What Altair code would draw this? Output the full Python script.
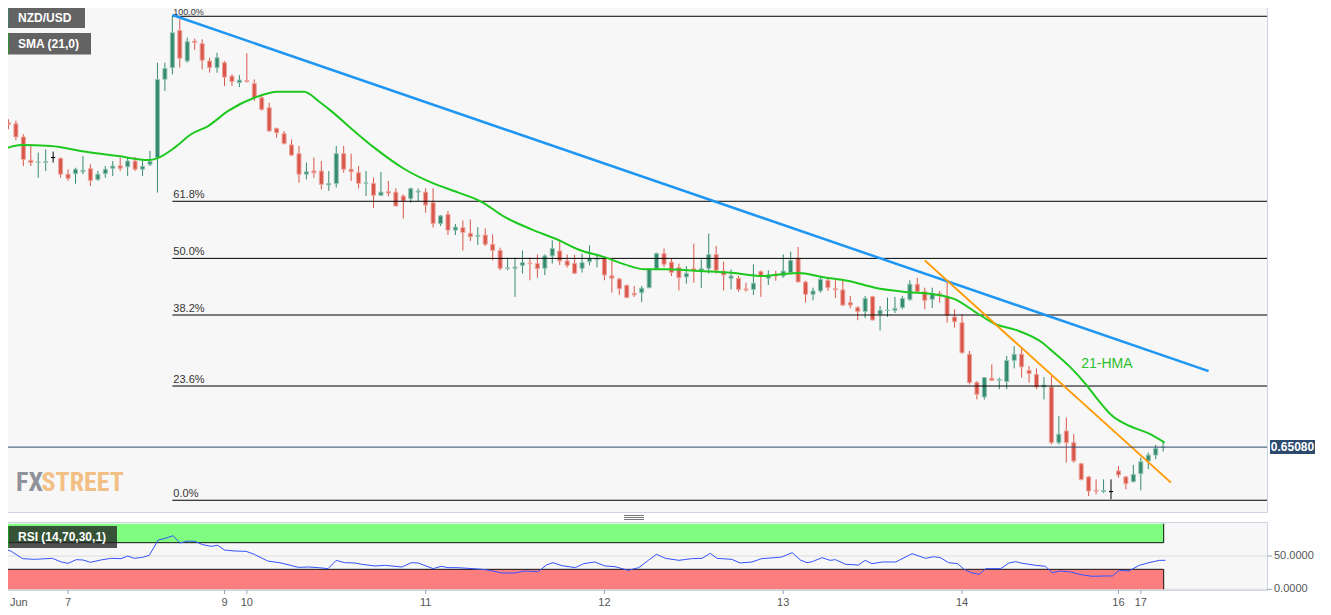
import altair as alt
import pandas as pd

# ---------------- data ----------------
# hourly candles, index 0 = 7 Jun 00:00 (weekend hours removed); prices in pips (x 1e-4)
FIRST_IDX = -9
open_pips = [
    6632.6, 6638.6, 6638.2, 6632.9, 6623.5, 6622.6, 6622.6, 6624.6, 6624.3, 6617.9,
    6618.1, 6618.9, 6620.1, 6615.8, 6618.1, 6620.3, 6621.3, 6620.9, 6623.2, 6619.9,
    6621.9, 6624.6, 6656.1, 6660.8, 6675.8, 6663.5, 6671.5, 6670.5, 6663.5, 6660.8,
    6662.8, 6657.4, 6654.8, 6655.6, 6654.4, 6648.7, 6644.7, 6636.4, 6634.2, 6629.7,
    6626.2, 6617.9, 6619.2, 6619.2, 6613.6, 6614.1, 6626.2, 6619.9, 6618.5, 6614.2,
    6614.2, 6609.4, 6610.9, 6610.7, 6609.1, 6608.1, 6610.7, 6610.7, 6606.4, 6598.0,
    6601.7, 6595.4, 6596.4, 6594.1, 6592.9, 6593.4, 6589.7, 6587.2, 6580.0, 6580.0,
    6581.2, 6582.1, 6581.9, 6580.0, 6585.0, 6587.0, 6583.0, 6582.0, 6580.0, 6582.7,
    6583.5, 6584.0, 6577.0, 6575.7, 6573.2, 6569.9, 6570.2, 6572.2, 6579.9, 6585.9,
    6582.5, 6580.3, 6576.5, 6579.9, 6579.2, 6580.0, 6585.6, 6578.9, 6576.0, 6576.0,
    6571.7, 6571.5, 6578.7, 6576.0, 6577.6, 6576.9, 6578.3, 6584.0, 6574.5, 6569.5,
    6570.9, 6575.2, 6571.8, 6571.3, 6566.2, 6564.2, 6562.6, 6568.6, 6561.5, 6563.0,
    6563.1, 6564.2, 6567.5, 6573.6, 6570.6, 6567.5, 6569.8, 6568.6, 6560.4, 6558.1,
    6545.4, 6534.0, 6528.2, 6535.7, 6534.9, 6534.4, 6542.9, 6545.4, 6538.9, 6537.3,
    6532.2, 6532.2, 6509.8, 6514.5, 6509.8, 6501.3, 6496.0, 6490.6, 6490.1, 6490.1,
    6498.4, 6496.0, 6494.1, 6497.3, 6502.4, 6504.8, 6507.9,
]
high_pips = [
    6643.4, 6640.0, 6639.5, 6634.0, 6629.9, 6626.6, 6627.9, 6627.0, 6624.6, 6619.9,
    6620.5, 6625.2, 6621.9, 6619.2, 6621.2, 6623.2, 6624.6, 6624.6, 6624.8, 6623.9,
    6627.3, 6662.8, 6662.8, 6681.5, 6680.3, 6672.9, 6672.5, 6672.2, 6664.8, 6666.8,
    6663.5, 6658.1, 6657.8, 6666.6, 6656.1, 6650.1, 6646.7, 6636.6, 6635.3, 6631.9,
    6629.3, 6622.6, 6624.6, 6623.2, 6619.2, 6629.3, 6629.3, 6626.2, 6621.2, 6619.2,
    6616.5, 6618.8, 6615.2, 6612.2, 6609.8, 6612.5, 6612.2, 6612.2, 6612.2, 6601.5,
    6603.1, 6597.9, 6599.3, 6599.7, 6596.6, 6596.1, 6593.7, 6588.3, 6584.3, 6584.3,
    6587.2, 6584.3, 6585.6, 6585.6, 6591.3, 6591.0, 6585.6, 6585.4, 6585.9, 6589.3,
    6585.4, 6585.0, 6583.0, 6576.2, 6573.2, 6572.9, 6572.9, 6580.0, 6586.3, 6588.0,
    6583.9, 6581.9, 6580.9, 6589.9, 6583.6, 6594.0, 6589.0, 6582.7, 6579.6, 6576.9,
    6574.2, 6581.6, 6579.2, 6579.2, 6579.0, 6585.6, 6586.7, 6588.6, 6575.0, 6572.2,
    6576.5, 6576.2, 6575.2, 6575.6, 6568.9, 6564.8, 6568.9, 6568.9, 6564.8, 6568.2,
    6568.5, 6568.9, 6575.2, 6576.2, 6572.2, 6572.2, 6570.9, 6574.9, 6563.5, 6561.5,
    6546.7, 6534.6, 6536.2, 6541.3, 6536.0, 6544.7, 6548.7, 6548.1, 6540.7, 6539.7,
    6536.2, 6536.6, 6520.5, 6519.9, 6513.2, 6501.7, 6496.4, 6495.0, 6495.0, 6495.0,
    6500.4, 6496.4, 6500.8, 6503.8, 6505.8, 6508.9, 6510.1,
]
low_pips = [
    6632.0, 6636.0, 6631.5, 6621.2, 6621.2, 6616.5, 6619.2, 6622.6, 6616.5, 6615.2,
    6614.1, 6617.9, 6613.2, 6615.2, 6616.5, 6617.2, 6619.2, 6617.2, 6619.2, 6617.2,
    6621.2, 6610.5, 6651.4, 6658.1, 6660.8, 6662.8, 6668.0, 6660.1, 6658.8, 6658.8,
    6653.4, 6653.4, 6653.0, 6654.8, 6647.4, 6643.5, 6635.0, 6632.6, 6629.9, 6625.2,
    6614.5, 6615.8, 6616.5, 6611.8, 6611.2, 6612.5, 6618.5, 6615.2, 6612.2, 6609.1,
    6604.2, 6609.1, 6609.0, 6605.0, 6600.1, 6606.4, 6607.0, 6602.4, 6596.4, 6597.0,
    6593.4, 6593.4, 6587.2, 6591.0, 6589.4, 6589.0, 6583.2, 6579.2, 6579.2, 6568.5,
    6577.9, 6575.2, 6576.2, 6577.3, 6581.9, 6581.3, 6580.3, 6577.9, 6578.3, 6581.2,
    6580.3, 6575.2, 6570.2, 6569.3, 6568.0, 6568.5, 6566.4, 6572.0, 6579.6, 6580.5,
    6576.9, 6571.1, 6573.8, 6574.2, 6572.0, 6577.9, 6577.9, 6571.1, 6571.5, 6570.6,
    6570.6, 6569.3, 6568.5, 6573.3, 6575.0, 6576.2, 6577.8, 6574.5, 6566.2, 6567.1,
    6570.2, 6570.9, 6568.0, 6564.8, 6563.9, 6559.1, 6559.9, 6559.0, 6555.0, 6560.4,
    6562.0, 6563.5, 6566.9, 6570.2, 6563.5, 6564.0, 6566.2, 6558.1, 6556.1, 6545.6,
    6533.3, 6527.2, 6527.2, 6534.9, 6531.3, 6531.3, 6539.7, 6536.0, 6534.0, 6531.3,
    6527.2, 6509.1, 6509.1, 6501.7, 6501.7, 6494.6, 6488.3, 6489.0, 6489.5, 6487.0,
    6495.7, 6491.0, 6493.7, 6490.6, 6499.1, 6503.1, 6506.2,
]
close_pips = [
    6640.0, 6638.0, 6632.9, 6623.8, 6622.6, 6622.8, 6623.0, 6624.6, 6617.9, 6616.2,
    6619.9, 6619.5, 6615.4, 6617.9, 6619.9, 6621.2, 6620.3, 6623.2, 6619.9, 6621.1,
    6623.0, 6656.0, 6660.5, 6674.9, 6664.6, 6671.3, 6670.9, 6663.8, 6660.8, 6664.8,
    6657.0, 6655.2, 6655.8, 6655.2, 6648.7, 6644.0, 6635.3, 6634.6, 6630.2, 6625.6,
    6617.9, 6618.9, 6618.5, 6613.8, 6614.1, 6626.2, 6619.9, 6618.9, 6614.2, 6614.4,
    6609.4, 6610.7, 6610.3, 6605.1, 6607.1, 6612.1, 6611.1, 6605.5, 6598.0, 6601.1,
    6595.4, 6596.6, 6594.4, 6592.7, 6593.3, 6589.7, 6587.2, 6580.0, 6580.2, 6580.5,
    6582.3, 6581.9, 6579.9, 6585.0, 6588.0, 6583.0, 6581.2, 6578.0, 6582.3, 6584.0,
    6583.9, 6577.3, 6576.0, 6571.8, 6568.2, 6569.3, 6572.0, 6579.6, 6586.0, 6581.6,
    6578.3, 6576.2, 6577.9, 6579.2, 6579.9, 6585.6, 6579.2, 6577.3, 6576.9, 6571.5,
    6571.3, 6574.0, 6576.9, 6577.3, 6576.9, 6578.9, 6583.2, 6574.5, 6569.5, 6570.9,
    6575.6, 6572.2, 6571.4, 6565.2, 6565.2, 6562.6, 6567.9, 6559.2, 6563.1, 6563.2,
    6563.9, 6567.9, 6573.6, 6570.6, 6567.1, 6569.8, 6569.3, 6561.0, 6558.5, 6546.0,
    6534.0, 6529.3, 6536.0, 6534.9, 6535.2, 6542.9, 6545.4, 6540.3, 6537.6, 6532.2,
    6533.0, 6509.8, 6513.2, 6509.8, 6502.4, 6495.0, 6490.3, 6490.3, 6490.6, 6490.1,
    6496.8, 6493.3, 6497.0, 6502.1, 6504.8, 6507.5, 6508.0,
]

# 21-period moving average line
hma_idx = [-9.0, -6.3, -2.3, 2.2, 6.7, 10.8, 12.1, 14.3, 16.5, 18.8, 21.5, 25.0, 28.2,
           31.7, 33.6, 35.3, 38.4, 41.1, 45.2, 48.8, 52.4, 55.5, 58.6, 62.2, 65.9,
           68.5, 72.0, 74.7, 77.4, 80.1, 84.7, 89.1, 93.1, 95.8, 98.1, 101.2, 104.8,
           108.3, 112.0, 116.4, 119.1, 121.8, 124.5, 127.2, 130.8, 132.1, 134.4,
           136.6, 138.4, 140.2, 142.5, 145.2, 147.2]
hma_pips = [6627.5, 6629.7, 6629.3, 6627.0, 6625.2, 6623.6, 6624.5, 6628.6, 6634.0,
            6637.3, 6643.4, 6648.7, 6651.1, 6651.1, 6647.4, 6643.4, 6635.3, 6628.6,
            6619.9, 6614.5, 6610.5, 6606.8, 6600.7, 6595.7, 6591.3, 6587.6, 6584.5,
            6581.6, 6579.6, 6579.6, 6578.9, 6578.2, 6576.9, 6577.6, 6578.1, 6576.5,
            6574.9, 6572.2, 6570.6, 6569.5, 6567.5, 6562.4, 6557.5, 6555.2, 6550.0,
            6546.7, 6540.6, 6533.4, 6526.5, 6520.5, 6516.5, 6513.3, 6509.8]

# RSI line
rsi_idx = [-9.0, -7.7, -6.1, -4.5, -2.1, -0.9, 0.0, 1.1, 2.0, 3.0, 4.4, 5.8, 7.1, 8.0,
           8.9, 10.0, 10.9, 12.1, 12.9, 14.1, 15.0, 16.1, 17.0, 18.1, 19.2, 20.1, 21.0,
           22.4, 23.9, 25.0, 26.8, 28.6, 30.9, 32.3, 33.6, 34.9, 36.0, 37.1, 38.5, 39.4,
           41.2, 42.5, 44.8,
           46.1, 47.0, 49.0, 50.1, 51.0, 52.2, 53.7, 55.5, 56.6, 58.2, 60.0, 61.3, 63.1,
           64.2, 65.1, 66.3, 68.1, 69.2, 70.7, 72.1, 73.4, 75.2, 76.6, 77.9, 79.0, 80.2,
           82.0, 83.7, 85.1, 86.2, 87.1, 89.1, 90.2, 91.8, 93.1, 94.9, 95.8, 97.2, 98.3,
           99.2, 99.9, 101.2, 102.3, 103.0, 104.4, 106.1, 107.0, 107.9,
           109.3, 111.1, 113.3, 115.1, 116.2, 117.1, 118.2, 119.4, 120.3, 121.2, 122.3,
           123.2, 125.2, 126.3, 127.2, 128.1, 129.9, 131.2, 132.1, 133.2, 134.6, 136.2,
           137.5, 139.1, 140.2, 141.1, 142.4, 143.8, 145.1, 146.5, 147.3]
rsi_val = [61.5, 57.5, 46.0, 45.0, 46.5, 41.0, 39.0, 44.5, 44.0, 40.5, 44.0, 46.5, 46.0,
           50.0, 46.5, 48.0, 51.0, 74.0, 76.0, 80.5, 69.5, 72.5, 72.0, 67.0, 64.5, 66.0,
           59.0, 57.5, 57.0, 52.5, 42.5, 39.5, 33.0, 33.5, 32.5, 31.0, 43.5, 40.0, 39.5,
           37.5, 35.0, 36.0, 33.5,
           40.0, 39.5, 31.0, 34.5, 32.5, 32.5, 31.5, 30.0, 28.5, 24.5, 24.5, 27.5, 26.5,
           36.5, 40.0, 35.5, 32.5, 38.5, 41.0, 35.0, 34.0, 28.5, 32.5, 43.5, 52.5, 46.5,
           43.5, 46.0, 46.5, 54.0, 46.5, 45.0, 39.5, 41.0, 46.0, 47.5, 48.5, 55.0, 44.0,
           40.0, 41.5, 47.5, 43.5, 44.5, 37.5, 36.5, 43.5, 38.5,
           41.0, 41.0, 53.5, 46.5, 49.0, 47.5, 40.0, 38.5, 30.0, 25.0, 22.5, 31.0, 31.0,
           39.5, 41.5, 39.0, 36.0, 34.5, 25.0, 27.5, 26.0, 21.5, 19.5, 20.0, 20.0, 28.5,
           27.5, 36.0, 40.0, 43.5, 43.5]

# trend lines (two anchor points each)
blue_idx = [14.0, 153.1]
blue_pips = [6682.0, 6538.6]
orange_idx = [115.0, 148.05]
orange_pips = [6583.2, 6493.7]

# Fibonacci levels
fib_labels = ["100.0%", "61.8%", "50.0%", "38.2%", "23.6%", "0.0%"]
fib_pips = [6681.5, 6607.0, 6584.0, 6561.2, 6532.6, 6486.6]
fib_start_idx = 14.0

# axes
price_ticks = [0.6490, 0.6500, 0.6510, 0.6520, 0.6530, 0.6540, 0.6550, 0.6560, 0.6570,
               0.6580, 0.6590, 0.6600, 0.6610, 0.6620, 0.6630, 0.6640, 0.6650, 0.6660,
               0.6670, 0.6680]
rsi_ticks = [0, 50]
time_tick_idx = [-9, 0, 21, 24, 48, 72, 96, 120, 141, 144]
time_tick_lbl = ["Jun", "7", "9", "10", "11", "12", "13", "14", "16", "17"]

rsi_upper, rsi_lower, rsi_band_top = 70, 30, 98.5
rsi_band_end_idx = 147.07
hma_text, hma_text_idx, hma_text_pips = "21-HMA", 136.0, 6541.5

# ---------------- chart ----------------
P = 1e-4
W, H_MAIN, H_RSI = 1266, 511, 68
XDOM = [-9.0, 160.94]
YDOM = [0.648187, 0.668765]
RDOM = [-1.05, 101.05]

GREEN, RED = "#358b6f", "#d9574a"
GREEN_L, RED_L = "#93c4b3", "#eda59d"
AXIS_TXT, TICK_C = "#555555", "#9aa3b5"
FONT = "Liberation Sans"
NARROW = ("Noto Sans Condensed, Roboto Condensed, Liberation Sans Narrow, "
          "DejaVu Sans Condensed, Liberation Sans")

n = len(open_pips)
candles = pd.DataFrame({
    "idx": list(range(FIRST_IDX, FIRST_IDX + n)),
    "o": [v * P for v in open_pips],
    "h": [v * P for v in high_pips],
    "l": [v * P for v in low_pips],
    "c": [v * P for v in close_pips],
})
candles["dir"] = ["up" if c > o else ("down" if c < o else "flat")
                  for o, c in zip(open_pips, close_pips)]

xscale = alt.Scale(domain=XDOM, nice=False, zero=False, padding=0)
yscale = alt.Scale(domain=YDOM, nice=False, zero=False, padding=0)
rscale = alt.Scale(domain=RDOM, nice=False, zero=False, padding=0)
cscale = alt.Scale(domain=["up", "down", "flat"], range=[GREEN, RED, "#000000"])
cscale_l = alt.Scale(domain=["up", "down", "flat"], range=[GREEN_L, RED_L, "#000000"])

yaxis = alt.Axis(orient="right", values=price_ticks, format=".4f", grid=True,
                 gridColor="#e3e3e3", domain=False, tickColor=TICK_C, tickSize=5,
                 labelPadding=2, labelColor=AXIS_TXT, labelFontSize=11, labelFont=FONT,
                 title=None)


def X(f):
    return alt.X(f, type="quantitative", scale=xscale, axis=None, title=None)


def Y(f, axis=None):
    return alt.Y(f, type="quantitative", scale=yscale, axis=axis, title=None)


def RX(f):
    return alt.X(f, type="quantitative", scale=xscale, axis=None, title=None)


def RY(f):
    return alt.Y(f, type="quantitative", scale=rscale, axis=None, title=None)


one = alt.Data(values=[{"k": 1}])


def box(x1, x2, y1, y2, color, opacity=1.0):
    return alt.Chart(one).mark_rect(color=color, opacity=opacity).encode(
        x=alt.value(x1), x2=alt.value(x2), y=alt.value(y1), y2=alt.value(y2))


def label(x, y, text, color="white", size=12, weight="bold", font=FONT,
          align="left", baseline="middle"):
    return alt.Chart(one).mark_text(color=color, fontSize=size, fontWeight=weight,
                                    font=font, align=align, baseline=baseline).encode(
        x=alt.value(x), y=alt.value(y), text=alt.value(text))


wicks = alt.Chart(candles).mark_rule(strokeWidth=1, clip=True).encode(
    x=X("idx"), y=Y("l", axis=yaxis), y2="h",
    color=alt.Color("dir:N", scale=cscale, legend=None))
bodies = alt.Chart(candles).mark_bar(size=4, strokeWidth=1, clip=True).encode(
    x=X("idx"), y=Y("o"), y2="c",
    fill=alt.Fill("dir:N", scale=cscale, legend=None),
    stroke=alt.Stroke("dir:N", scale=cscale_l, legend=None))

fib_df = pd.DataFrame({"label": fib_labels, "p": [v * P for v in fib_pips],
                       "x0": fib_start_idx, "x1": XDOM[1]})
fib_lines = alt.Chart(fib_df).mark_rule(color="#000000", strokeWidth=1).encode(
    x=X("x0"), x2="x1", y=Y("p"))
fib_text_top = alt.Chart(fib_df.iloc[:1]).mark_text(
    align="left", baseline="alphabetic", dx=1, dy=-1, fontSize=9, color="#333333",
    font=FONT).encode(x=X("x0"), y=Y("p"), text="label:N")
fib_text = alt.Chart(fib_df.iloc[1:]).mark_text(
    align="left", baseline="alphabetic", dx=1, dy=-3, fontSize=11, color="#333333",
    font=FONT).encode(x=X("x0"), y=Y("p"), text="label:N")

hma_df = pd.DataFrame({"idx": hma_idx, "p": [v * P for v in hma_pips]})
hma_line = alt.Chart(hma_df).mark_line(color="#1ec81e", strokeWidth=2, clip=True,
                                       interpolate="monotone").encode(x=X("idx"), y=Y("p"))
blue_df = pd.DataFrame({"idx": blue_idx, "p": [v * P for v in blue_pips]})
blue_line = alt.Chart(blue_df).mark_line(color="#1f97f2", strokeWidth=2.5).encode(
    x=X("idx"), y=Y("p"))
orange_df = pd.DataFrame({"idx": orange_idx, "p": [v * P for v in orange_pips]})
orange_line = alt.Chart(orange_df).mark_line(color="#ff9b05", strokeWidth=2).encode(
    x=X("idx"), y=Y("p"))
hma_lbl = alt.Chart(pd.DataFrame({"idx": [hma_text_idx], "p": [hma_text_pips * P],
                                  "t": [hma_text]})).mark_text(
    align="left", baseline="middle", fontSize=14, color="#2cbf2c", font=FONT).encode(
    x=X("idx"), y=Y("p"), text="t:N")

last_price = close_pips[-1] * P
last_rule = alt.Chart(one).mark_rule(color="#2d4b6e", strokeWidth=1).encode(
    x=alt.value(0), x2=alt.value(W),
    y=alt.Y(datum=last_price, type="quantitative", scale=yscale, axis=None))
last_box = alt.Chart(one).mark_rect(color="#2d4b6e", yOffset=-7, y2Offset=7).encode(
    x=alt.value(1269), x2=alt.value(1314),
    y=alt.Y(datum=last_price, type="quantitative", scale=yscale, axis=None),
    y2=alt.Y2(datum=last_price))
last_txt = alt.Chart(one).mark_text(color="white", fontWeight="bold", fontSize=12,
                                    font=FONT, align="center", baseline="middle").encode(
    x=alt.value(1291.5),
    y=alt.Y(datum=last_price, type="quantitative", scale=yscale, axis=None),
    text=alt.value(f"{last_price:.5f}"))

sep = [alt.Chart(one).mark_rule(color="#777777", strokeWidth=1).encode(
    x=alt.value(623), x2=alt.value(643), y=alt.value(yy)) for yy in (514.5, 516.5, 518.5)]

main = alt.layer(
    wicks, bodies, fib_lines, fib_text_top, fib_text, hma_line, blue_line, orange_line,
    hma_lbl, last_rule,
    box(5, 84, 5, 27, "#636363"), box(5, 7.5, 5, 27, "#2e8f75"),
    label(17, 16.5, "NZD/USD"),
    box(5, 90, 32, 53.5, "#636363"), box(5, 7.5, 32, 53.5, "#00c800"),
    label(17, 43, "SMA (21,0)"),
    label(15, 490, "FX", color="#8e939b", size=26, font=NARROW, baseline="alphabetic"),
    label(40.5, 490, "STREET", color="#f2c084", size=26, font=NARROW,
          baseline="alphabetic"),
    last_box, last_txt, *sep,
).properties(width=W, height=H_MAIN)

# ---------------- RSI panel ----------------
bands = pd.DataFrame({"x0": [XDOM[0], XDOM[0]], "x1": [rsi_band_end_idx] * 2,
                      "lo": [rsi_upper, 0], "hi": [rsi_band_top, rsi_lower],
                      "z": ["ob", "os"]})
levels = pd.DataFrame({"x0": [XDOM[0]] * 2, "x1": [rsi_band_end_idx] * 2,
                       "v": [rsi_upper, rsi_lower]})
rsi_df = pd.DataFrame({"idx": rsi_idx, "v": rsi_val})
rtick_df = pd.DataFrame({"v": rsi_ticks, "t": [f"{v:.4f}" for v in rsi_ticks]})
xtick_df = pd.DataFrame({"idx": time_tick_idx, "t": time_tick_lbl})

rsi_grid = alt.Chart(rtick_df).mark_rule(color="#dcdcdc", strokeWidth=1).encode(
    x=alt.value(0), x2=alt.value(W), y=RY("v"))
band_rect = alt.Chart(bands).mark_rect().encode(
    x=RX("x0"), x2="x1", y=RY("lo"), y2="hi",
    color=alt.Color("z:N", scale=alt.Scale(domain=["ob", "os"],
                                           range=["#80fc80", "#fd7e7e"]), legend=None))
level_rules = alt.Chart(levels).mark_rule(color="#111111", strokeWidth=1).encode(
    x=RX("x0"), x2="x1", y=RY("v"))
band_edges = alt.Chart(bands).mark_rule(color="#111111", strokeWidth=1).encode(
    x=RX("x1"), y=RY("lo"), y2="hi")
rsi_line = alt.Chart(rsi_df).mark_line(color="#3552ff", strokeWidth=1, clip=True).encode(
    x=RX("idx"), y=RY("v"))

# hand-made axes for the RSI panel (right value labels, bottom time labels)
r_ticks = alt.Chart(rtick_df).mark_rule(color=TICK_C, strokeWidth=1).encode(
    x=alt.value(W), x2=alt.value(W + 5), y=RY("v"))
r_labels = alt.Chart(rtick_df).mark_text(
    align="left", baseline="middle", fontSize=11, color=AXIS_TXT, font=FONT).encode(
    x=alt.value(W + 7), y=RY("v"), text="t:N")
x_ticks = alt.Chart(xtick_df).mark_rule(color=TICK_C, strokeWidth=1).encode(
    x=RX("idx"), y=alt.value(H_RSI), y2=alt.value(H_RSI + 4))
# first label ("Jun") sits at the left edge: shifted right so the page margin
# does not cut it
x_label_first = alt.Chart(xtick_df.iloc[:1]).mark_text(
    align="left", baseline="middle", fontSize=11, color=AXIS_TXT, font=FONT,
    dx=9).encode(x=RX("idx"), y=alt.value(H_RSI + 13), text="t:N")
x_labels = alt.Chart(xtick_df.iloc[1:]).mark_text(
    align="center", baseline="middle", fontSize=11, color=AXIS_TXT, font=FONT).encode(
    x=RX("idx"), y=alt.value(H_RSI + 13), text="t:N")

rsi = alt.layer(
    rsi_grid, band_rect, level_rules, band_edges, rsi_line,
    r_ticks, r_labels, x_ticks, x_label_first, x_labels,
    box(5, 116, 4, 26, "#222222", 0.78), box(5, 7.5, 4, 26, "#00e600"),
    label(17, 15, "RSI (14,70,30,1)"),
).properties(width=W, height=H_RSI)

chart = alt.vconcat(main, rsi, spacing=10, bounds="flush").resolve_scale(
    x="independent", y="independent", color="independent", fill="independent",
    stroke="independent"
).properties(
    padding={"left": -8, "top": -8, "right": 0, "bottom": 2}
).configure(font=FONT, background="white").configure_view(
    fill="#f7f7f7", stroke="#cdd4e2", strokeWidth=1)

chart.save("out.html", embed_options={"renderer": "svg", "actions": False})
